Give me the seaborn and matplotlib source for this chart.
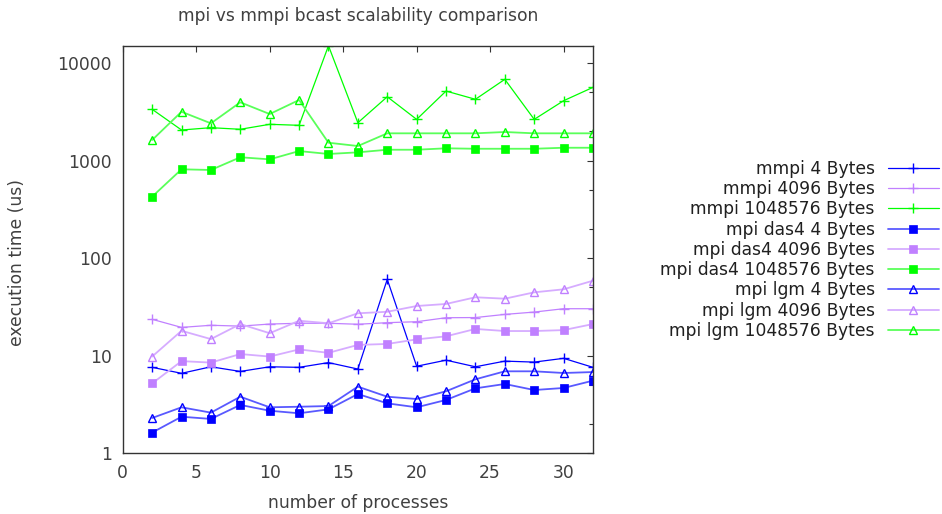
import numpy as np
import pandas as pd
import matplotlib
matplotlib.use("Agg")
import matplotlib.pyplot as plt
import matplotlib.ticker as mticker
from matplotlib.colors import to_rgba
import seaborn as sns

procs = [2, 4, 6, 8, 10, 12, 14, 16, 18, 20, 22, 24, 26, 28, 30, 32]

mmpi_4 = [7.6, 6.6, 7.7, 6.9, 7.7, 7.6, 8.5, 7.3, 60.6, 7.8, 9.0, 7.7, 8.8, 8.6, 9.4, 7.6]
mmpi_4096 = [23.6, 19.5, 20.5, 20.1, 21.1, 21.5, 21.5, 21.0, 21.8, 22.3, 24.5, 24.6, 26.5, 28.0, 30.3, 30.3]
mmpi_1048576 = [3350, 2055, 2170, 2090, 2350, 2295, 15000, 2440, 4500, 2640, 5150, 4240, 6790, 2640, 4100, 5620]
das4_4 = [1.63, 2.37, 2.25, 3.13, 2.73, 2.57, 2.82, 4.05, 3.25, 2.96, 3.52, 4.63, 5.13, 4.45, 4.67, 5.55]
das4_4096 = [5.2, 8.8, 8.5, 10.4, 9.8, 11.6, 10.7, 12.9, 13.2, 14.7, 15.8, 18.8, 17.9, 17.9, 18.3, 21.1]
das4_1048576 = [426, 813, 800, 1080, 1028, 1250, 1167, 1213, 1290, 1290, 1334, 1320, 1320, 1320, 1352, 1352]
lgm_4 = [2.30, 2.96, 2.61, 3.80, 2.96, 3.0, 3.05, 4.82, 3.8, 3.6, 4.32, 5.73, 6.92, 6.92, 6.65, 6.8]
lgm_4096 = [9.8, 18.0, 14.8, 21.1, 17.0, 22.8, 21.5, 27.2, 28.2, 32.3, 33.9, 39.7, 38.4, 44.6, 47.9, 58.7]
lgm_1048576 = [1622, 3160, 2405, 3950, 2995, 4170, 1522, 1408, 1900, 1900, 1900, 1900, 1960, 1900, 1900, 1900]

labels = ["mmpi 4 Bytes", "mmpi 4096 Bytes", "mmpi 1048576 Bytes",
          "mpi das4 4 Bytes", "mpi das4 4096 Bytes", "mpi das4 1048576 Bytes",
          "mpi lgm 4 Bytes", "mpi lgm 4096 Bytes", "mpi lgm 1048576 Bytes"]
series = [mmpi_4, mmpi_4096, mmpi_1048576, das4_4, das4_4096, das4_1048576,
          lgm_4, lgm_4096, lgm_1048576]

BLUE, PURPLE, GREEN = "#0000ff", "#c080ff", "#00ff00"
colors = [BLUE, PURPLE, GREEN] * 3

sns.set_style("white")
plt.rcParams["font.family"] = ["DejaVu Sans"]

fig = plt.figure(figsize=(9.42, 5.14), dpi=100)
ax = fig.add_axes([0.1303, 0.1181, 0.4992, 0.7929])

txt = "#404040"
fs = 12.3

for i, (lab, vals) in enumerate(zip(labels, series)):
    df = pd.DataFrame({"procs": procs, "time": vals})
    grp = i // 3
    col = colors[i]
    if grp == 0:
        kw = dict(marker="+", markersize=7.5, markeredgewidth=1.0, linewidth=0.9)
    elif grp == 1:
        kw = dict(marker="s", markersize=5.5, markeredgewidth=0.5, linewidth=1.3)
    else:
        kw = dict(marker="^", markersize=6, markeredgewidth=1.0, markerfacecolor="none",
                  linewidth=1.3)
    sns.lineplot(data=df, x="procs", y="time", ax=ax, color=col, label=lab,
                 markeredgecolor=col, **kw)
    if grp > 0:
        ln = ax.get_lines()[-1]
        r, g, b, _ = to_rgba(col)
        ln.set_color((r + (1 - r) * 0.35, g + (1 - g) * 0.35, b + (1 - b) * 0.35))
        ln.set_markeredgecolor(col)
        if grp == 1:
            ln.set_markerfacecolor(col)

ax.set_yscale("log")
ax.set_xlim(0, 32)
ax.set_ylim(1, 15000)
ax.set_xticks([0, 5, 10, 15, 20, 25, 30])
ax.set_yticks([1, 10, 100, 1000, 10000])
ax.yaxis.set_major_formatter(mticker.FuncFormatter(lambda v, p: f"{int(round(v))}"))
ax.yaxis.set_minor_locator(mticker.LogLocator(base=10, subs=(2.0, 5.0)))
ax.yaxis.set_minor_formatter(mticker.NullFormatter())

ax.tick_params(which="both", direction="in", top=True, right=True, colors="#333333",
               labelcolor=txt, labelsize=fs, width=0.8)
ax.tick_params(which="major", length=4.5, pad=8)
ax.tick_params(which="minor", length=3)
for s in ax.spines.values():
    s.set_color("#333333")
    s.set_linewidth(1.0)

ax.set_xlabel("number of processes", fontsize=fs, color=txt, labelpad=8)
ax.set_ylabel("execution time (us)", fontsize=fs, color=txt)
ax.yaxis.set_label_coords(-0.205, 0.467)
ax.set_title("mpi vs mmpi bcast scalability comparison", fontsize=fs, color=txt, pad=18)

handles, labs = ax.get_legend_handles_labels()
ax.get_legend().remove()
leg = fig.legend(handles, labs, loc="upper right", bbox_to_anchor=(1.004, 0.702),
                 markerfirst=False, frameon=False, fontsize=fs, handlelength=3.0,
                 handletextpad=0.75, labelspacing=0.13, borderaxespad=0.0)
for t in leg.get_texts():
    t.set_color("#202020")

fig.savefig("out.png", dpi=100, facecolor="white")
